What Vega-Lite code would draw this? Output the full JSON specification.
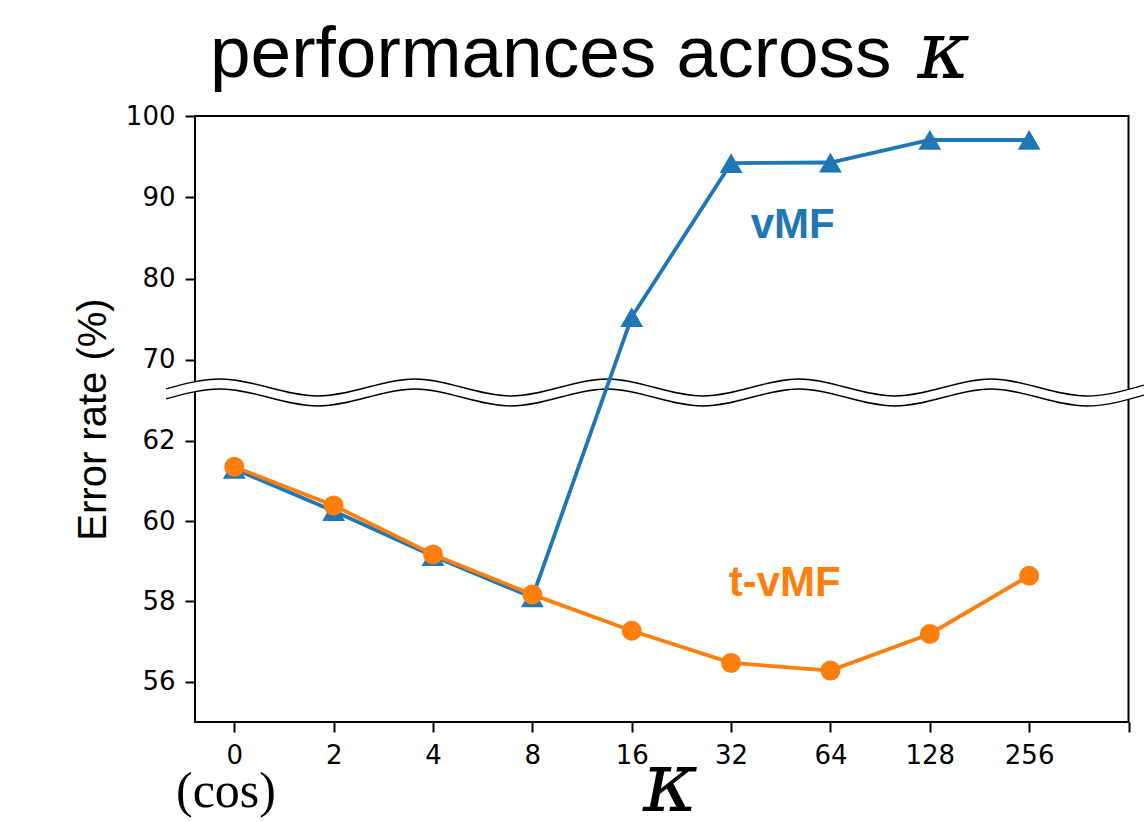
{
  "$schema": "https://vega.github.io/schema/vega-lite/v6.json",
  "width": 933.5,
  "height": 606,
  "autosize": {"type": "none"},
  "padding": {"left": 195, "top": 116, "right": 15.5, "bottom": 100},
  "background": "white",
  "title": {
    "text": "performances across",
    "font": "Liberation Sans",
    "fontSize": 73,
    "fontWeight": "normal",
    "color": "black",
    "anchor": "start",
    "frame": "group",
    "dx": 15,
    "baseline": "alphabetic",
    "offset": -136
  },
  "datasets": {
    "perf": [
      {"kappa": "0", "x": 0, "method": "vMF", "y": 61.3},
      {"kappa": "2", "x": 1, "method": "vMF", "y": 60.25},
      {"kappa": "4", "x": 2, "method": "vMF", "y": 59.13},
      {"kappa": "8", "x": 3, "method": "vMF", "y": 58.1},
      {"kappa": "16", "x": 4, "method": "vMF", "y": 75.28},
      {"kappa": "32", "x": 5, "method": "vMF", "y": 94.2},
      {"kappa": "64", "x": 6, "method": "vMF", "y": 94.28},
      {"kappa": "128", "x": 7, "method": "vMF", "y": 97.05},
      {"kappa": "256", "x": 8, "method": "vMF", "y": 97.05},
      {"kappa": "0", "x": 0, "method": "t-vMF", "y": 61.35},
      {"kappa": "2", "x": 1, "method": "t-vMF", "y": 60.39},
      {"kappa": "4", "x": 2, "method": "t-vMF", "y": 59.17},
      {"kappa": "8", "x": 3, "method": "t-vMF", "y": 58.17},
      {"kappa": "16", "x": 4, "method": "t-vMF", "y": 57.27},
      {"kappa": "32", "x": 5, "method": "t-vMF", "y": 56.47},
      {"kappa": "64", "x": 6, "method": "t-vMF", "y": 56.28},
      {"kappa": "128", "x": 7, "method": "t-vMF", "y": 57.19},
      {"kappa": "256", "x": 8, "method": "t-vMF", "y": 58.64}
    ],
    "wave": [
      {"x": -0.687, "top": 66.45, "bottom": 63.043},
      {"x": -0.144, "top": 67.66, "bottom": 66.43},
      {"x": 0.842, "top": 63.113, "bottom": 62.864},
      {"x": 1.819, "top": 67.66, "bottom": 66.43},
      {"x": 2.785, "top": 63.113, "bottom": 62.864},
      {"x": 3.751, "top": 67.66, "bottom": 66.43},
      {"x": 4.717, "top": 63.113, "bottom": 62.864},
      {"x": 5.683, "top": 67.66, "bottom": 66.43},
      {"x": 6.649, "top": 63.113, "bottom": 62.864},
      {"x": 7.616, "top": 67.66, "bottom": 66.43},
      {"x": 8.582, "top": 63.113, "bottom": 62.864},
      {"x": 9.155, "top": 66.91, "bottom": 63.135}
    ],
    "notes": [{"note": "annotation"}]
  },
  "layer": [
    {
      "data": {"name": "wave"},
      "mark": {"type": "area", "fill": "white", "interpolate": "monotone", "clip": false},
      "encoding": {
        "x": {"field": "x", "type": "quantitative", "title": "κ",
              "scale": {"domain": [-0.3955, 9.0], "nice": false, "zero": false},
              "axis": {"values": [0, 1, 2, 3, 4, 5, 6, 7, 8, 9],
                       "labelExpr": "datum.value == 9 ? '' : ['0','2','4','8','16','32','64','128','256'][datum.value]"}},
        "y": {"field": "top", "type": "quantitative", "title": "Error rate (%)",
              "scale": {"domain": [55, 63.2, 66, 100], "range": [606, 276.5, 276.5, 0], "nice": false, "zero": false},
              "axis": {"values": [56, 58, 60, 62, 70, 80, 90, 100]}},
        "y2": {"field": "bottom"}
      }
    },
    {
      "data": {"name": "wave"},
      "mark": {"type": "line", "stroke": "black", "strokeWidth": 1.3, "interpolate": "monotone", "clip": false},
      "encoding": {
        "x": {"field": "x", "type": "quantitative", "title": "κ"},
        "y": {"field": "top", "type": "quantitative", "title": "Error rate (%)"}
      }
    },
    {
      "data": {"name": "wave"},
      "mark": {"type": "line", "stroke": "black", "strokeWidth": 1.3, "interpolate": "monotone", "clip": false},
      "encoding": {
        "x": {"field": "x", "type": "quantitative", "title": "κ"},
        "y": {"field": "bottom", "type": "quantitative", "title": "Error rate (%)"}
      }
    },
    {
      "data": {"name": "perf"},
      "transform": [{"filter": "datum.method == 'vMF'"}],
      "mark": {"type": "line", "stroke": "#1f77b4", "strokeWidth": 3.8},
      "encoding": {
        "x": {"field": "x", "type": "quantitative", "title": "κ"},
        "y": {"field": "y", "type": "quantitative", "title": "Error rate (%)"}
      }
    },
    {
      "data": {"name": "perf"},
      "transform": [{"filter": "datum.method == 'vMF'"}],
      "mark": {"type": "point", "shape": "triangle-up", "filled": true, "fill": "#1f77b4", "size": 520, "opacity": 1},
      "encoding": {
        "x": {"field": "x", "type": "quantitative", "title": "κ"},
        "y": {"field": "y", "type": "quantitative", "title": "Error rate (%)"}
      }
    },
    {
      "data": {"name": "perf"},
      "transform": [{"filter": "datum.method == 't-vMF'"}],
      "mark": {"type": "line", "stroke": "#ff7f0e", "strokeWidth": 3.8},
      "encoding": {
        "x": {"field": "x", "type": "quantitative", "title": "κ"},
        "y": {"field": "y", "type": "quantitative", "title": "Error rate (%)"}
      }
    },
    {
      "data": {"name": "perf"},
      "transform": [{"filter": "datum.method == 't-vMF'"}],
      "mark": {"type": "point", "shape": "circle", "filled": true, "fill": "#ff7f0e", "size": 400, "opacity": 1},
      "encoding": {
        "x": {"field": "x", "type": "quantitative", "title": "κ"},
        "y": {"field": "y", "type": "quantitative", "title": "Error rate (%)"}
      }
    },
    {
      "data": {"name": "notes"},
      "mark": {"type": "text", "text": "vMF", "font": "Liberation Sans", "fontWeight": "bold", "fontSize": 42, "fill": "#1f77b4", "align": "center", "baseline": "alphabetic"},
      "encoding": {"x": {"datum": 5.62}, "y": {"datum": 85.0}}
    },
    {
      "data": {"name": "notes"},
      "mark": {"type": "text", "text": "t-vMF", "font": "Liberation Sans", "fontWeight": "bold", "fontSize": 42, "fill": "#ff7f0e", "align": "center", "baseline": "alphabetic"},
      "encoding": {"x": {"datum": 5.54}, "y": {"datum": 58.13}}
    },
    {
      "data": {"name": "notes"},
      "mark": {"type": "text", "text": "(cos)", "font": "Liberation Serif", "fontSize": 50, "fill": "black", "align": "center", "baseline": "alphabetic"},
      "encoding": {"x": {"datum": -0.084}, "y": {"datum": 52.88}}
    },
    {
      "data": {"name": "notes"},
      "mark": {"type": "text", "text": "κ", "font": "DejaVu Serif", "fontStyle": "italic", "fontSize": 80, "fill": "black", "align": "center", "baseline": "alphabetic"},
      "encoding": {"x": {"datum": 7.14}, "y": {"datum": 104.67}}
    }
  ],
  "config": {
    "view": {"stroke": "black", "strokeWidth": 2},
    "axis": {
      "domain": false,
      "grid": false,
      "ticks": true,
      "tickColor": "black",
      "tickWidth": 2,
      "tickSize": 10,
      "labelFont": "DejaVu Sans",
      "labelFontSize": 26,
      "labelColor": "black",
      "labelPadding": 10,
      "labelOverlap": false,
      "labelFlush": false
    },
    "axisY": {
      "titleFont": "Liberation Sans",
      "titleFontSize": 40,
      "titleFontWeight": "normal",
      "titleColor": "black",
      "titlePadding": 12
    },
    "axisX": {
      "titleFont": "DejaVu Serif",
      "titleFontStyle": "italic",
      "titleFontSize": 84,
      "titleFontWeight": "normal",
      "titleColor": "black",
      "titleBaseline": "alphabetic",
      "titlePadding": 42,
      "titleX": 475
    }
  }
}
